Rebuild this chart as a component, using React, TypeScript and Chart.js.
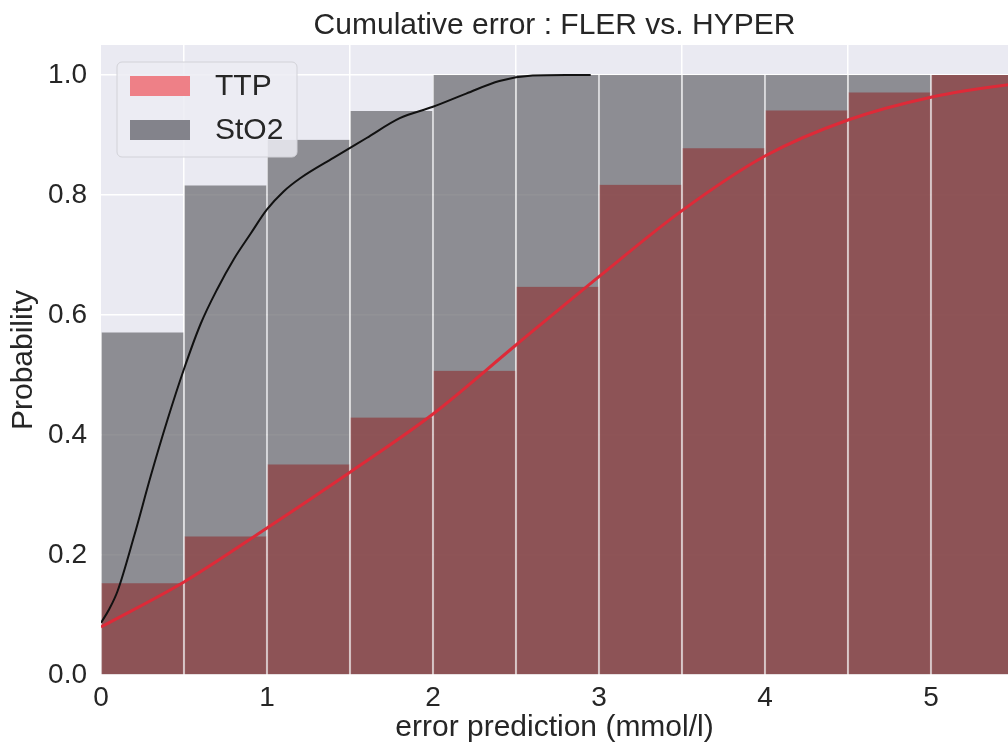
import React, { useEffect, useRef } from "react";
import { Chart, registerables } from "chart.js";

Chart.register(...registerables);

// ---- data ----
const binCenters = [0.25, 0.75, 1.25, 1.75, 2.25, 2.75, 3.25, 3.75, 4.25, 4.75, 5.25];
const ttpValues = [0.153, 0.231, 0.351, 0.429, 0.507, 0.647, 0.817, 0.878, 0.941, 0.971, 1.0];
const sto2Values = [0.571, 0.816, 0.892, 0.94, 1.0, 1.0, 1.0, 1.0, 1.0, 1.0, 1.0];

const sto2CurveX = [0, 0.05, 0.1, 0.2, 0.3, 0.4, 0.5, 0.6, 0.7, 0.8, 0.9, 1.0, 1.1, 1.2, 1.4, 1.6, 1.8, 2.0, 2.2, 2.4, 2.6, 2.8, 2.95];
const sto2CurveY = [0.087, 0.11, 0.14, 0.232, 0.332, 0.425, 0.51, 0.585, 0.643, 0.693, 0.735, 0.776, 0.806, 0.828, 0.862, 0.895, 0.928, 0.947, 0.969, 0.99, 0.999, 1.0, 1.0];

const ttpCurveX = [0, 0.5, 1.0, 1.5, 2.0, 2.5, 3.0, 3.5, 4.0, 4.5, 5.0, 5.5, 5.8];
const ttpCurveY = [0.08, 0.155, 0.245, 0.338, 0.435, 0.55, 0.664, 0.774, 0.865, 0.925, 0.963, 0.985, 0.992];

const xTicks = [0, 1, 2, 3, 4, 5];
const yTicks = [0, 0.2, 0.4, 0.6, 0.8, 1.0];

const seriesNames = ["TTP", "StO2"];
const titleText = "Cumulative error : FLER vs. HYPER";
const xLabel = "error prediction (mmol/l)";
const yLabel = "Probability";

// ---- styles ----
const FONT = "'Liberation Sans', Arial, Helvetica, sans-serif";
const TEXT = "#262626";
const PLOT_BG = "#EAEAF2";
const STO2_BAR = "rgba(110,109,115,0.75)";
const TTP_BAR = "rgba(141,59,60,0.7)";
const LEGEND_COLORS = ["#EE8087", "#83838B"];

const bgPlugin = {
  id: "plotBg",
  beforeDraw(chart: any) {
    const { ctx, chartArea } = chart;
    ctx.save();
    ctx.fillStyle = PLOT_BG;
    ctx.fillRect(chartArea.left, chartArea.top, chartArea.right - chartArea.left, chartArea.bottom - chartArea.top);
    ctx.restore();
  },
};

const legendPlugin = {
  id: "innerLegend",
  afterDraw(chart: any) {
    const { ctx, chartArea } = chart;
    const x = chartArea.left + 16;
    const y = chartArea.top + 17;
    const w = 180;
    const h = 95;
    const r = 5;
    ctx.save();
    ctx.beginPath();
    ctx.moveTo(x + r, y);
    ctx.arcTo(x + w, y, x + w, y + h, r);
    ctx.arcTo(x + w, y + h, x, y + h, r);
    ctx.arcTo(x, y + h, x, y, r);
    ctx.arcTo(x, y, x + w, y, r);
    ctx.closePath();
    ctx.fillStyle = "rgba(236,236,243,0.85)";
    ctx.fill();
    ctx.strokeStyle = "#D2D2D8";
    ctx.lineWidth = 1;
    ctx.stroke();
    ctx.font = `30px ${FONT}`;
    ctx.textBaseline = "middle";
    ctx.textAlign = "left";
    seriesNames.forEach((name, i) => {
      const cy = y + 24 + i * 44;
      ctx.fillStyle = LEGEND_COLORS[i];
      ctx.fillRect(x + 13, cy - 10, 60, 20);
      ctx.fillStyle = TEXT;
      ctx.fillText(name, x + 98, cy + 1);
    });
    ctx.restore();
  },
};

export default function App() {
  const canvasRef = useRef<HTMLCanvasElement | null>(null);

  useEffect(() => {
    if (!canvasRef.current) return;
    const barBorder = { left: 1, right: 1, top: 0, bottom: 0 };
    const chart = new Chart(canvasRef.current, {
      type: "bar",
      data: {
        datasets: [
          {
            type: "line",
            label: seriesNames[1] + " curve",
            data: sto2CurveX.map((x, i) => ({ x, y: sto2CurveY[i] })),
            borderColor: "#111111",
            borderWidth: 2,
            pointRadius: 0,
            cubicInterpolationMode: "monotone",
            order: 0,
          } as any,
          {
            type: "line",
            label: seriesNames[0] + " curve",
            data: ttpCurveX.map((x, i) => ({ x, y: ttpCurveY[i] })),
            borderColor: "#DE2A38",
            borderWidth: 3,
            pointRadius: 0,
            cubicInterpolationMode: "monotone",
            order: 0,
          } as any,
          {
            type: "bar",
            label: seriesNames[0],
            data: binCenters.map((x, i) => ({ x, y: ttpValues[i] })),
            backgroundColor: TTP_BAR,
            borderColor: "rgba(255,255,255,0.45)",
            borderWidth: barBorder,
            borderSkipped: false,
            grouped: false,
            barPercentage: 1,
            categoryPercentage: 1,
            order: 1,
          } as any,
          {
            type: "bar",
            label: seriesNames[1],
            data: binCenters.map((x, i) => ({ x, y: sto2Values[i] })),
            backgroundColor: STO2_BAR,
            borderColor: "rgba(255,255,255,0.55)",
            borderWidth: barBorder,
            borderSkipped: false,
            grouped: false,
            barPercentage: 1,
            categoryPercentage: 1,
            order: 2,
          } as any,
        ],
      },
      options: {
        animation: false,
        responsive: true,
        maintainAspectRatio: false,
        layout: { padding: 0 },
        plugins: {
          legend: { display: false },
          tooltip: { enabled: false },
          title: {
            display: true,
            text: titleText,
            fullSize: false,
            color: TEXT,
            font: { family: FONT, size: 30, weight: "normal" },
            padding: { top: 8, bottom: 1 },
          },
        },
        scales: {
          x: {
            type: "linear",
            min: 0,
            max: 5.464,
            offset: false,
            border: { display: false },
            grid: { color: "#FFFFFF", lineWidth: 1.5, drawTicks: false },
            afterBuildTicks: (scale: any) => {
              scale.ticks = xTicks.map((v) => ({ value: v }));
            },
            afterFit: (scale: any) => {
              scale.height = 74;
            },
            ticks: {
              color: TEXT,
              padding: 6,
              maxRotation: 0,
              autoSkip: false,
              font: { family: FONT, size: 28 },
              callback: (v: any) => String(v),
            },
            title: {
              display: true,
              text: xLabel,
              color: TEXT,
              font: { family: FONT, size: 30 },
              padding: { top: 0, bottom: 3 },
            },
          },
          y: {
            min: 0,
            max: 1.05,
            border: { display: false },
            grid: { color: "#FFFFFF", lineWidth: 1.5, drawTicks: false },
            afterBuildTicks: (scale: any) => {
              scale.ticks = yTicks.map((v) => ({ value: v }));
            },
            afterFit: (scale: any) => {
              scale.width = 101;
            },
            ticks: {
              color: TEXT,
              padding: 14,
              autoSkip: false,
              font: { family: FONT, size: 28 },
              callback: (v: any) => Number(v).toFixed(1),
            },
            title: {
              display: true,
              text: yLabel,
              color: TEXT,
              font: { family: FONT, size: 30 },
              padding: { top: 6, bottom: 0 },
            },
          },
        },
      } as any,
      plugins: [bgPlugin, legendPlugin],
    });
    return () => chart.destroy();
  }, []);

  return (
    <div style={{ position: "fixed", left: 0, top: 0, width: 1008, height: 749, background: "#FFFFFF" }}>
      <canvas ref={canvasRef} />
    </div>
  );
}
